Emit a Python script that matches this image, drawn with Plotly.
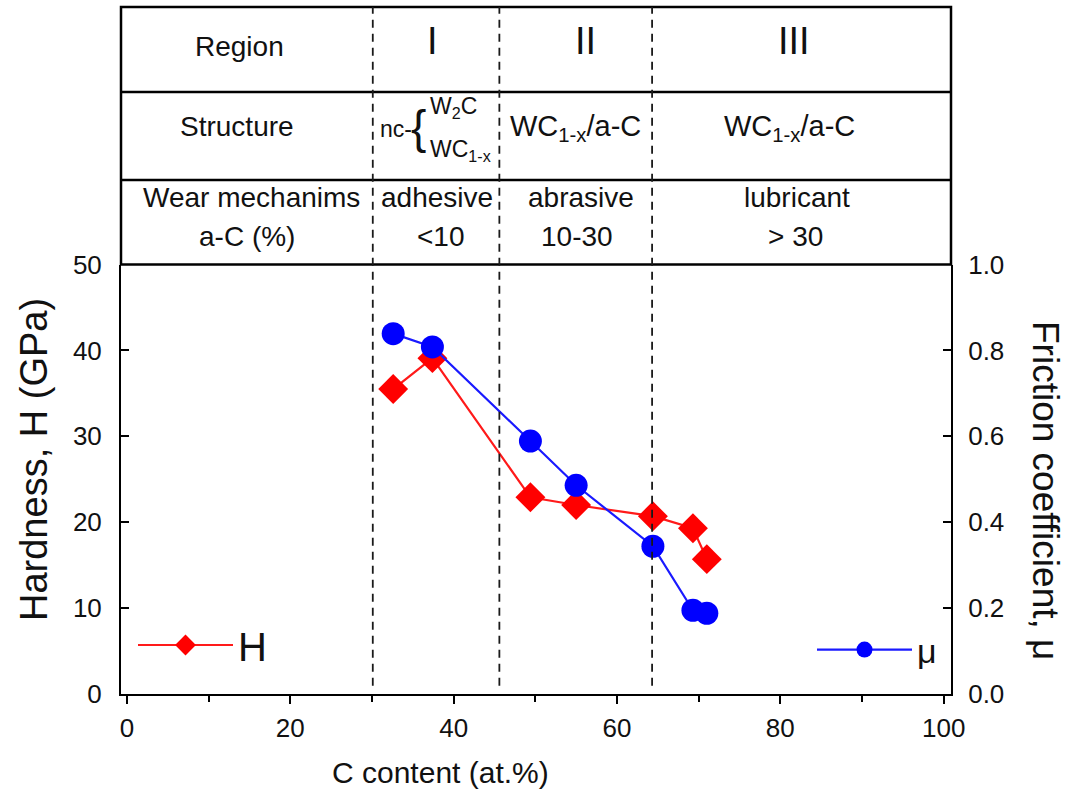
import plotly.graph_objects as go

# ---------------- data ----------------
c_content = [32.6, 37.4, 49.4, 55.0, 64.4, 69.3, 71.0]
hardness = [35.5, 39.1, 22.9, 22.0, 20.7, 19.3, 15.7]
friction = [0.839, 0.808, 0.589, 0.486, 0.344, 0.195, 0.188]
region_bounds = [30.1, 45.6, 64.3]

x_ticks = [0, 20, 40, 60, 80, 100]
h_ticks = [0, 10, 20, 30, 40, 50]
mu_ticks = [0.0, 0.2, 0.4, 0.6, 0.8, 1.0]

row_labels = ["Region", "Structure", "Wear mechanims", "a-C (%)"]
regions = ["I", "II", "III"]
structures_simple = ["WC<sub>1-x</sub>/a-C", "WC<sub>1-x</sub>/a-C"]
mechanisms = ["adhesive", "abrasive", "lubricant"]
ac_pct = ["<10", "10-30", "> 30"]

# ---------------- geometry ----------------
W, H = 1070, 803
L, R, T, B = 121, 951, 7, 694   # plot-area pixel box (table + graph)
PLOT_TOP = 264.5


def px(x):
    return (x - L) / (R - L)


def py(y):
    return (B - y) / (B - T)


FONT = "Liberation Sans, Arial, sans-serif"
INK = "#111111"

fig = go.Figure()
fig.add_trace(go.Scatter(
    x=c_content, y=hardness, name="H", mode="lines+markers",
    line=dict(color="#ff1a1a", width=2.2),
    marker=dict(symbol="diamond", size=23, color="#ff0000"),
    legend="legend",
))
fig.add_trace(go.Scatter(
    x=c_content, y=friction, name="\u03bc", mode="lines+markers", yaxis="y2",
    line=dict(color="#1a1aff", width=2.2),
    marker=dict(symbol="circle", size=23, color="#0000ff"),
    legend="legend2",
))

dom_top = py(PLOT_TOP)
axis_common = dict(showline=True, linecolor="black", linewidth=2, showgrid=False,
                   zeroline=False, automargin=False,
                   tickfont=dict(family=FONT, size=26, color=INK),
                   tickcolor="black", tickwidth=2)

fig.update_layout(
    width=W, height=H,
    margin=dict(l=L, r=W - R, t=T, b=H - B, autoexpand=False),
    paper_bgcolor="white", plot_bgcolor="white",
    showlegend=True,
    xaxis=dict(range=[-0.73, 100.9], tickvals=x_ticks, ticks="outside", ticklen=8,
               minor=dict(dtick=10, tick0=0, ticks="outside", ticklen=6, tickwidth=2,
                          tickcolor="black"),
               mirror=False, ticklabelstandoff=2,
               **axis_common),
    yaxis=dict(range=[0, 50], domain=[0, dom_top], tickvals=h_ticks, ticks="inside",
               ticklen=8, ticklabelstandoff=12,
               **axis_common),
    yaxis2=dict(range=[0, 1.0], overlaying="y", side="right", tickvals=mu_ticks,
                tickformat=".1f", ticks="inside", ticklen=8, ticklabelstandoff=10,
                **axis_common),
    legend=dict(x=px(133), y=py(645), xanchor="left", yanchor="middle",
                bgcolor="rgba(0,0,0,0)", itemwidth=95,
                font=dict(family=FONT, size=40, color=INK), tracegroupgap=0),
    legend2=dict(x=px(812), y=py(650), xanchor="left", yanchor="middle",
                 bgcolor="rgba(0,0,0,0)", itemwidth=95,
                 font=dict(family=FONT, size=34, color=INK), tracegroupgap=0),
)

shapes = []
# table frame
shapes.append(dict(type="rect", xref="paper", yref="paper", x0=0, x1=1, y0=py(PLOT_TOP), y1=1,
                   line=dict(color="black", width=2.5)))
for yy in [92, 180]:
    shapes.append(dict(type="line", xref="paper", yref="paper", x0=0, x1=1, y0=py(yy), y1=py(yy),
                       line=dict(color="black", width=2.5)))
# region boundaries
for xb in region_bounds:
    shapes.append(dict(type="line", xref="x", yref="paper", x0=xb, x1=xb, y0=0.012, y1=1,
                       line=dict(color="#1a1a1a", width=1.8, dash="8px,6px")))
fig.update_layout(shapes=shapes)

ann = []


def text(x, y, s, size=28, **kw):
    ann.append(dict(x=px(x), y=py(y), xref="paper", yref="paper", text=s, showarrow=False,
                    font=dict(family=FONT, size=size, color=INK), xanchor=kw.get("xanchor", "center"),
                    yanchor="middle", textangle=kw.get("angle", 0)))


row_y = [47, 126, 197, 237]
row_x = [239, 237, 251, 247]
for lab, xx, yy in zip(row_labels, row_x, row_y):
    text(xx, yy, lab)

for lab, xx in zip(regions, [432, 585, 794]):
    text(xx, 41, lab, size=38)

# structure column I (stacked phases)
text(378, 129, "nc-", size=23, xanchor="left")
text(418, 127, "{", size=46)
text(428, 108, "W<sub>2</sub>C", size=23, xanchor="left")
text(428, 150, "WC<sub>1-x</sub>", size=23, xanchor="left")
for lab, xx in zip(structures_simple, [575, 789]):
    text(xx, 128, lab, size=29)

for lab, xx in zip(mechanisms, [437, 581, 797]):
    text(xx, 197, lab)
for lab, xx in zip(ac_pct, [441, 577, 795]):
    text(xx, 237, lab)

# axis titles
text(440, 772, "C content (at.%)", size=30)
text(34, 460, "Hardness, H (GPa)", size=38, angle=-90)
text(1046, 490, "Friction coefficient, \u03bc", size=37, angle=90)

fig.update_layout(annotations=ann)

fig.write_html("out.html")
